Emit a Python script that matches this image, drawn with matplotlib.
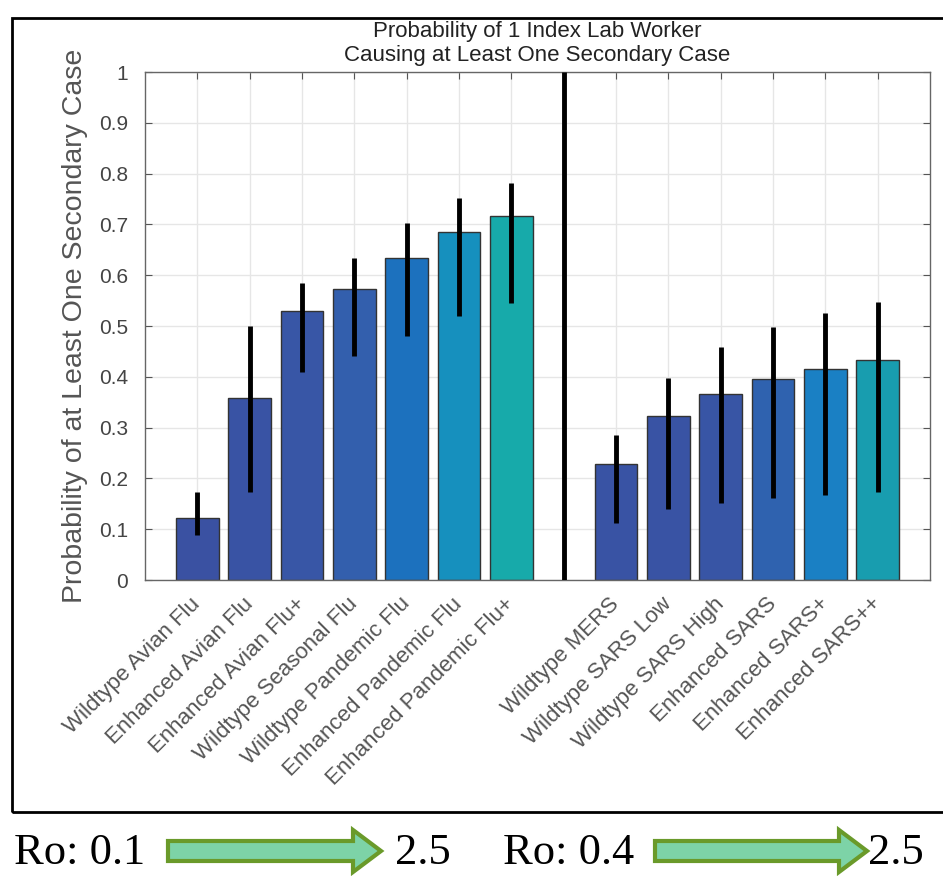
import matplotlib
matplotlib.use("Agg")
import matplotlib.pyplot as plt
from matplotlib.patches import Rectangle, FancyArrow

# ---- data ----
flu_labels = ["Wildtype Avian Flu", "Enhanced Avian Flu", "Enhanced Avian Flu+",
              "Wildtype Seasonal Flu", "Wildtype Pandemic Flu", "Enhanced Pandemic Flu",
              "Enhanced Pandemic Flu+"]
flu_values = [0.122, 0.358, 0.530, 0.573, 0.633, 0.685, 0.716]
flu_low = [0.089, 0.173, 0.410, 0.440, 0.480, 0.520, 0.545]
flu_high = [0.173, 0.500, 0.585, 0.633, 0.702, 0.752, 0.782]
flu_colors = ["#3A51A2", "#3953A4", "#3856A6", "#335FAD", "#1C71BE", "#1690BE", "#17AAAA"]

sars_labels = ["Wildtype MERS", "Wildtype SARS Low", "Wildtype SARS High",
               "Enhanced SARS", "Enhanced SARS+", "Enhanced SARS++"]
sars_values = [0.228, 0.323, 0.366, 0.396, 0.416, 0.433]
sars_low = [0.112, 0.140, 0.152, 0.162, 0.167, 0.173]
sars_high = [0.285, 0.398, 0.458, 0.498, 0.525, 0.548]
sars_colors = ["#3953A4", "#3953A4", "#3855A5", "#2F62AF", "#1A80C4", "#189DAF"]

flu_pos = [1, 2, 3, 4, 5, 6, 7]
sep_pos = 8
sars_pos = [9, 10, 11, 12, 13, 14]

yticks = [0, 0.1, 0.2, 0.3, 0.4, 0.5, 0.6, 0.7, 0.8, 0.9, 1]
ytick_labels = ["0", "0.1", "0.2", "0.3", "0.4", "0.5", "0.6", "0.7", "0.8", "0.9", "1"]

r0_left = ("Ro: 0.1", "2.5")
r0_right = ("Ro: 0.4", "2.5")

# ---- figure ----
fig = plt.figure(figsize=(9.43, 8.76), dpi=100)
plt.rcParams['font.family'] = ['Liberation Sans', 'DejaVu Sans']

# outer frame
fig.patches.append(Rectangle((12 / 943, 1 - 812 / 876), (945 - 12) / 943, (812 - 18) / 876,
                             transform=fig.transFigure, fill=False, edgecolor="black",
                             linewidth=2, zorder=0))

ax = fig.add_axes([145 / 943, 1 - 580 / 876, (930 - 145) / 943, (580 - 72) / 876])

ax.bar(flu_pos, flu_values, width=0.82, color=flu_colors, edgecolor="#333333", linewidth=1, zorder=2)
ax.bar(sars_pos, sars_values, width=0.82, color=sars_colors, edgecolor="#333333", linewidth=1, zorder=2)

for p, lo, hi in zip(flu_pos, flu_low, flu_high):
    ax.vlines(p, lo, hi, color="black", linewidth=3.5, zorder=3)
for p, lo, hi in zip(sars_pos, sars_low, sars_high):
    ax.vlines(p, lo, hi, color="black", linewidth=3.5, zorder=3)
ax.vlines(sep_pos, 0, 1, color="black", linewidth=3.5, zorder=3)

ax.set_xlim(0, 15)
ax.set_ylim(0, 1)
ax.set_yticks(yticks)
ax.set_yticklabels(ytick_labels, fontsize=15, color="#444444")
ax.set_xticks(flu_pos + [sep_pos] + sars_pos)
ax.set_xticklabels(flu_labels + [""] + sars_labels, rotation=45, ha="right", va="center",
                   rotation_mode="anchor", fontsize=16, color="#555555")
ax.tick_params(direction="in", length=5, color="#555555", top=True, right=True)
ax.tick_params(axis="y", pad=12)
ax.tick_params(axis="x", pad=15)
ax.grid(True, color="#E6E6E6", linewidth=1, zorder=0)
ax.set_axisbelow(True)
for s in ax.spines.values():
    s.set_color("#666666")
    s.set_linewidth(1)

ax.set_ylabel("Probability of at Least One Secondary Case", fontsize=20.5, color="#555555", labelpad=8)
ax.set_title("Probability of 1 Index Lab Worker\nCausing at Least One Secondary Case",
             fontsize=16, color="#222222", pad=8, linespacing=1.2)

# ---- bottom R0 annotation ----
serif = ['Liberation Serif', 'DejaVu Serif']
yb = 1 - 853 / 876
fig.text(14 / 943, yb, r0_left[0], fontsize=32, family=serif, va="center", ha="left")
fig.text(395 / 943, yb, r0_left[1], fontsize=32, family=serif, va="center", ha="left")
fig.text(503 / 943, yb, r0_right[0], fontsize=32, family=serif, va="center", ha="left")
fig.text(868 / 943, yb, r0_right[1], fontsize=32, family=serif, va="center", ha="left")

def arrow(x0, x1):
    w = 1.0 / 943
    h = 1.0 / 876
    a = FancyArrow(x0 * w, 1 - 851 / 876, (x1 - x0) * w, 0, width=20 * h, head_width=42 * h,
                   head_length=28 * w, length_includes_head=True,
                   facecolor="#7DD3A7", edgecolor="#6A9A2A", linewidth=3,
                   transform=fig.transFigure)
    fig.patches.append(a)

arrow(168, 381)
arrow(655, 867)

fig.savefig("out.png", dpi=100)
